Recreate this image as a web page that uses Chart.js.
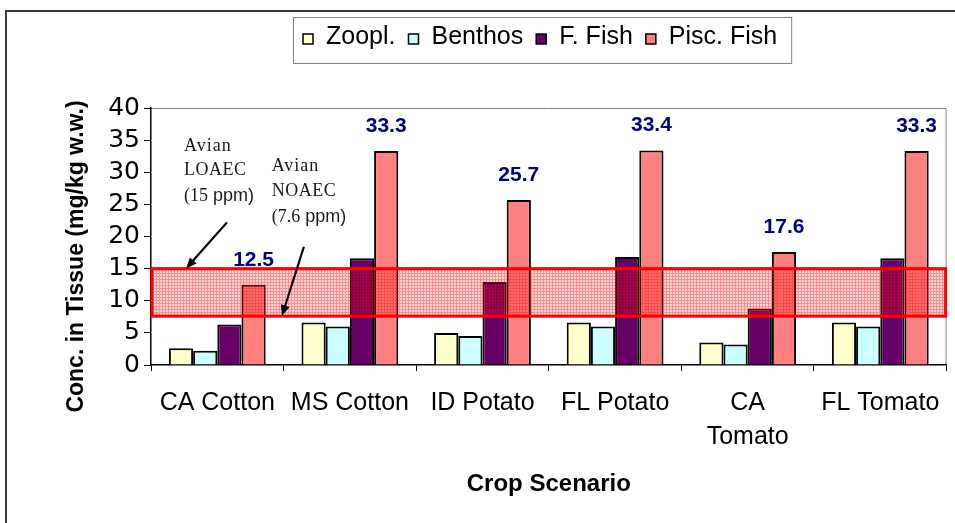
<!DOCTYPE html>
<html>
<head>
<meta charset="utf-8">
<script src="https://cdn.jsdelivr.net/npm/chart.js@4.4.1/dist/chart.umd.min.js"></script>
<style>
  html, body { margin: 0; padding: 0; background: #fff; }
  #wrap { width: 955px; height: 523px; }
</style>
</head>
<body>
<div id="wrap"><canvas id="c" width="955" height="523"></canvas></div>
<script>
// Crop scenarios and tissue concentrations (mg/kg wet weight)
const categories = ['CA Cotton', 'MS Cotton', 'ID Potato', 'FL Potato', ['CA', 'Tomato'], 'FL Tomato'];
const zooplankton     = [2.6, 6.6, 5.0, 6.6, 3.5, 6.6];
const benthos         = [2.2, 6.0, 4.5, 6.0, 3.2, 6.0];
const forageFish      = [6.3, 16.6, 12.9, 16.8, 8.8, 16.6];
const piscivorousFish = [12.5, 33.3, 25.7, 33.4, 17.6, 33.3];
const seriesNames = ['Zoopl.', 'Benthos', 'F. Fish', 'Pisc. Fish'];

// Value axis ticks
const yMin = 0, yMax = 40, yStep = 5;

// Avian effect thresholds (ppm)
const avianLOAEC = 15;
const avianNOAEC = 7.6;

const SANS = "'Liberation Sans', Arial, sans-serif";
const WIDE_SANS = "'DejaVu Sans', 'Liberation Sans', Arial, sans-serif";
const SERIF = "'Liberation Serif', 'Times New Roman', serif";
const colors = ['#FFFFCC', '#CCFFFF', '#660066', '#FF8080'];

// Outer frame and plot-area border
const framePlugin = {
  id: 'frame',
  beforeDraw(chart) {
    const ctx = chart.ctx, a = chart.chartArea;
    ctx.save();
    ctx.fillStyle = '#fff';
    ctx.fillRect(0, 0, chart.width, chart.height);
    ctx.strokeStyle = '#3a3a3a';
    ctx.lineWidth = 2;
    ctx.beginPath();
    ctx.moveTo(6, chart.height);
    ctx.lineTo(6, 11);
    ctx.lineTo(chart.width, 11);
    ctx.stroke();
    ctx.strokeStyle = '#808080';
    ctx.lineWidth = 1;
    ctx.beginPath();
    ctx.moveTo(a.left, a.top + 0.5);
    ctx.lineTo(a.right - 0.5, a.top + 0.5);
    ctx.lineTo(a.right - 0.5, a.bottom);
    ctx.stroke();
    ctx.restore();
  }
};

// Hatched band between the NOAEC and LOAEC thresholds
const bandPlugin = {
  id: 'band',
  afterDatasetsDraw(chart) {
    const ctx = chart.ctx, a = chart.chartArea, y = chart.scales.y;
    const top = y.getPixelForValue(avianLOAEC);
    const bot = y.getPixelForValue(avianNOAEC);
    const tile = document.createElement('canvas');
    tile.width = 3; tile.height = 3;
    const t = tile.getContext('2d');
    t.fillStyle = 'rgba(255,0,0,0.15)';
    t.fillRect(0, 0, 3, 3);
    t.fillStyle = 'rgba(255,0,0,0.34)';
    t.fillRect(0, 0, 3, 1);
    t.fillRect(0, 1, 1, 2);
    ctx.save();
    ctx.fillStyle = ctx.createPattern(tile, 'repeat');
    ctx.fillRect(a.left, top, a.right - a.left, bot - top);
    ctx.strokeStyle = '#FF0000';
    ctx.lineWidth = 3;
    ctx.strokeRect(a.left + 1, top, a.right - a.left - 2, bot - top);
    ctx.restore();
  }
};

// Value labels above the piscivorous fish bars
const valueLabelPlugin = {
  id: 'valueLabels',
  afterDatasetsDraw(chart) {
    const ctx = chart.ctx;
    const meta = chart.getDatasetMeta(3);
    ctx.save();
    ctx.fillStyle = '#000080';
    ctx.font = 'bold 21px ' + SANS;
    ctx.textAlign = 'center';
    ctx.textBaseline = 'alphabetic';
    meta.data.forEach((bar, i) => {
      ctx.fillText(piscivorousFish[i].toFixed(1), bar.x, bar.y - 19);
    });
    ctx.restore();
  }
};

// Threshold callouts with arrows
const calloutPlugin = {
  id: 'callouts',
  afterDraw(chart) {
    const ctx = chart.ctx, xs = chart.scales.x, ys = chart.scales.y;
    const px = v => xs.getPixelForValue(v);
    const py = v => ys.getPixelForValue(v);
    ctx.save();
    ctx.fillStyle = '#1a1a1a';
    ctx.textAlign = 'left';
    ctx.textBaseline = 'alphabetic';

    function lines(x, ys0, parts) {
      parts.forEach((p, i) => {
        let cx = x;
        p.forEach(seg => {
          ctx.font = seg[1];
          ctx.letterSpacing = seg[2] || '0px';
          ctx.fillText(seg[0], cx, ys0[i]);
          cx += ctx.measureText(seg[0]).width;
        });
      });
      ctx.letterSpacing = '0px';
    }
    const serif = '18px ' + SERIF;
    const sans = '18px ' + SANS;
    lines(px(-0.251), [py(33.3), py(29.5), py(25.6)], [
      [['Avian', serif, '1px']],
      [['LOAEC', serif, '0.5px']],
      [['(15', serif], [' ppm)', sans]]
    ]);
    lines(px(0.410), [py(30.2), py(26.3), py(22.3)], [
      [['Avian', serif, '1px']],
      [['NOAEC', serif, '0.5px']],
      [['(7.6', serif], [' ppm)', sans]]
    ]);

    function arrow(x1, y1, x2, y2) {
      const ang = Math.atan2(y2 - y1, x2 - x1);
      const hl = 11, hw = 4.5;
      ctx.strokeStyle = '#000';
      ctx.lineWidth = 2.2;
      ctx.beginPath();
      ctx.moveTo(x1, y1);
      ctx.lineTo(x2 - Math.cos(ang) * hl * 0.8, y2 - Math.sin(ang) * hl * 0.8);
      ctx.stroke();
      ctx.fillStyle = '#000';
      ctx.beginPath();
      ctx.moveTo(x2, y2);
      ctx.lineTo(x2 - Math.cos(ang) * hl + Math.sin(ang) * hw, y2 - Math.sin(ang) * hl - Math.cos(ang) * hw);
      ctx.lineTo(x2 - Math.cos(ang) * hl - Math.sin(ang) * hw, y2 - Math.sin(ang) * hl + Math.cos(ang) * hw);
      ctx.closePath();
      ctx.fill();
    }
    arrow(px(0.073), py(22.2), px(-0.236), py(avianLOAEC));
    arrow(px(0.653), py(18.4), px(0.487), py(avianNOAEC));
    ctx.restore();
  }
};

// Boxed legend above the plot
const legendBoxPlugin = {
  id: 'legendBox',
  afterDraw(chart) {
    const ctx = chart.ctx;
    ctx.save();
    ctx.font = '25px ' + SANS;
    const box = 10, gapAfterBox = 13, gapBetween = 13;
    let total = 0;
    seriesNames.forEach((n, i) => {
      total += box + gapAfterBox + ctx.measureText(n).width + (i < seriesNames.length - 1 ? gapBetween : 0);
    });
    const left = 293, top = 17, h = 46;
    const padL = 10, padR = 14;
    ctx.strokeStyle = '#808080';
    ctx.lineWidth = 1;
    ctx.strokeRect(left + 0.5, top + 0.5, total + padL + padR, h);
    let x = left + padL;
    const baseline = top + 27;
    ctx.textBaseline = 'alphabetic';
    ctx.textAlign = 'left';
    seriesNames.forEach((n, i) => {
      ctx.fillStyle = colors[i];
      ctx.fillRect(x, baseline - 10, box, box);
      ctx.strokeStyle = '#000';
      ctx.lineWidth = 1.5;
      ctx.strokeRect(x, baseline - 10, box, box);
      x += box + gapAfterBox;
      ctx.fillStyle = '#000';
      ctx.fillText(n, x, baseline);
      x += ctx.measureText(n).width + gapBetween;
    });
    ctx.restore();
  }
};

// Axis titles
const axisTitlePlugin = {
  id: 'axisTitles',
  afterDraw(chart) {
    const ctx = chart.ctx, a = chart.chartArea;
    ctx.save();
    ctx.fillStyle = '#000';
    ctx.textAlign = 'center';
    ctx.textBaseline = 'middle';
    ctx.font = 'bold 24px ' + SANS;
    ctx.fillText('Crop Scenario', (a.left + a.right) / 2, 484);
    ctx.translate(a.left - 74, (a.top + a.bottom) / 2 + 20);
    ctx.rotate(-Math.PI / 2);
    ctx.font = 'bold 23px ' + SANS;
    ctx.fillText('Conc. in Tissue (mg/kg w.w.)', 0, 0);
    ctx.restore();
  }
};

const seriesData = [zooplankton, benthos, forageFish, piscivorousFish];

new Chart(document.getElementById('c'), {
  type: 'bar',
  data: {
    labels: categories,
    datasets: seriesData.map((d, i) => ({
      label: seriesNames[i],
      data: d,
      backgroundColor: colors[i],
      borderColor: '#000',
      borderWidth: 2,
      barPercentage: 1.0,
      categoryPercentage: 0.73
    }))
  },
  options: {
    responsive: false,
    animation: false,
    devicePixelRatio: 1,
    layout: { padding: { left: 0, top: 108, right: 8, bottom: 0 } },
    plugins: {
      legend: { display: false },
      tooltip: { enabled: false }
    },
    scales: {
      x: {
        grid: { drawOnChartArea: false, tickLength: 6, color: '#000', offset: true },
        border: { color: '#000', width: 1.5 },
        ticks: {
          color: '#000',
          font: { family: SANS, size: 25, lineHeight: 1.35 },
          padding: 15,
          maxRotation: 0,
          autoSkip: false
        },
        afterFit(scale) { scale.height = 158; }
      },
      y: {
        min: yMin,
        max: yMax,
        grid: { drawOnChartArea: false, tickLength: 7, color: '#000' },
        border: { color: '#000', width: 1.5 },
        ticks: {
          stepSize: yStep,
          autoSkip: false,
          color: '#000',
          font: { family: WIDE_SANS, size: 25 },
          padding: 4
        },
        afterFit(scale) { scale.width = 151; }
      }
    }
  },
  plugins: [framePlugin, bandPlugin, valueLabelPlugin, calloutPlugin, legendBoxPlugin, axisTitlePlugin]
});
</script>
</body>
</html>
